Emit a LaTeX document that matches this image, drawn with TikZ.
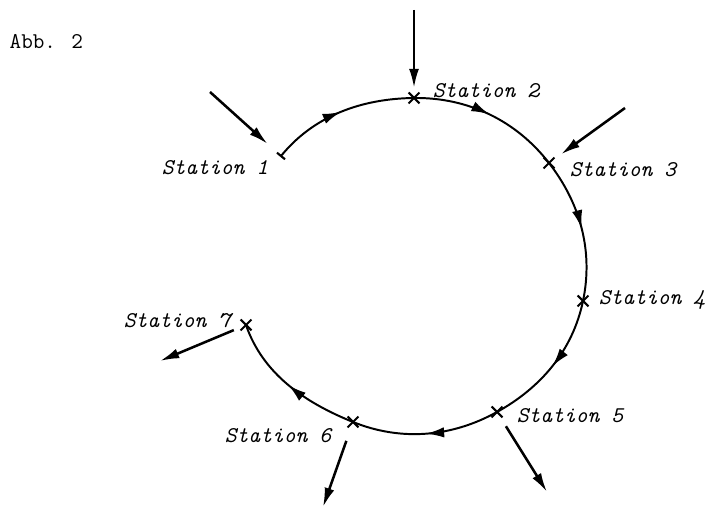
\documentclass[tikz,border=0pt]{standalone}
\usepackage{tikz}
\usetikzlibrary{arrows.meta, positioning, shapes.misc, decorations.markings}

\begin{document}
\begin{tikzpicture}[
    x=0.025cm, y=0.025cm,
    font=\fontsize{16}{18}\selectfont\ttfamily\itshape,
    stn/.style={
        cross out,
        draw,
        line width=1.5pt,
        minimum size=0.22cm,
        inner sep=0pt
    },
    endbar/.style={
        rectangle,
        draw,
        line width=1.5pt,
        minimum width=0pt,
        minimum height=0.26cm,
        inner sep=0pt
    },
    lab/.style={
        inner sep=1pt
    },
    ring/.style={
        line width=1.4pt,
        looseness=0.92,
        postaction={decorate},
        decoration={markings,
            mark=at position 0.5 with {\arrow{Latex[length=0.45cm,width=0.26cm]}}}
    },
    flow/.style={
        -{Latex[length=0.48cm,width=0.25cm]},
        line width=1.8pt
    }
]
\useasboundingbox (0,0) rectangle (709,511);

% stations on the ring
\node[endbar, rotate=50.8] (s1) at (281,355) {};
\node[stn] (s2) at (414,413) {};
\node[stn] (s3) at (549,348) {};
\node[stn] (s4) at (583,210) {};
\node[stn] (s5) at (497,99) {};
\node[stn] (s6) at (353,89) {};
\node[stn] (s7) at (246,186) {};

\node[lab] (t1) at (215,343) {Station 1};
\node[lab] (t2) at (486,420) {Station 2};
\node[lab] (t3) at (623,341) {Station 3};
\node[lab] (t4) at (652,211) {Station 4};
\node[lab] (t5) at (570,95) {Station 5};
\node[lab] (t6) at (278,75) {Station 6};
\node[lab] (t7) at (177,190) {Station 7};
\node[lab, anchor=west, font=\fontsize{16}{18}\selectfont\ttfamily] (abb) at (8,469) {Abb. 2};

% ring
\draw[ring] (s1.center) to[out=50.8, in=180.7] (s2.center);
\draw[ring] (s2.center) to[out=0.7, in=127.8] (s3.center);
\draw[ring] (s3.center) to[out=-52.2, in=78.2] (s4.center);
\draw[ring] (s4.center) to[out=-101.8, in=29] (s5.center);
\draw[ring] (s5.center) to[out=-151, in=-22] (s6.center);
\draw[ring] (s6.center) to[out=158, in=-71] (s7.center);

% in and out
\coordinate (in1) at (210,419);
\coordinate (in2) at (414,501);
\coordinate (in3) at (625,403);
\coordinate (out5) at (547,19);
\coordinate (out6) at (323,4);
\coordinate (out7) at (160,150);

\draw[flow, shorten >=0.45cm] (in1) -- (s1.center);
\draw[flow, shorten >=0.25cm] (in2) -- (s2.center);
\draw[flow, shorten >=0.37cm] (in3) -- (s3.center);
\draw[flow, shorten <=0.42cm] (s5.center) -- (out5);
\draw[flow, shorten <=0.5cm] (s6.center) -- (out6);
\draw[flow, shorten <=0.33cm] (s7.center) -- (out7);

\end{tikzpicture}
\end{document}
